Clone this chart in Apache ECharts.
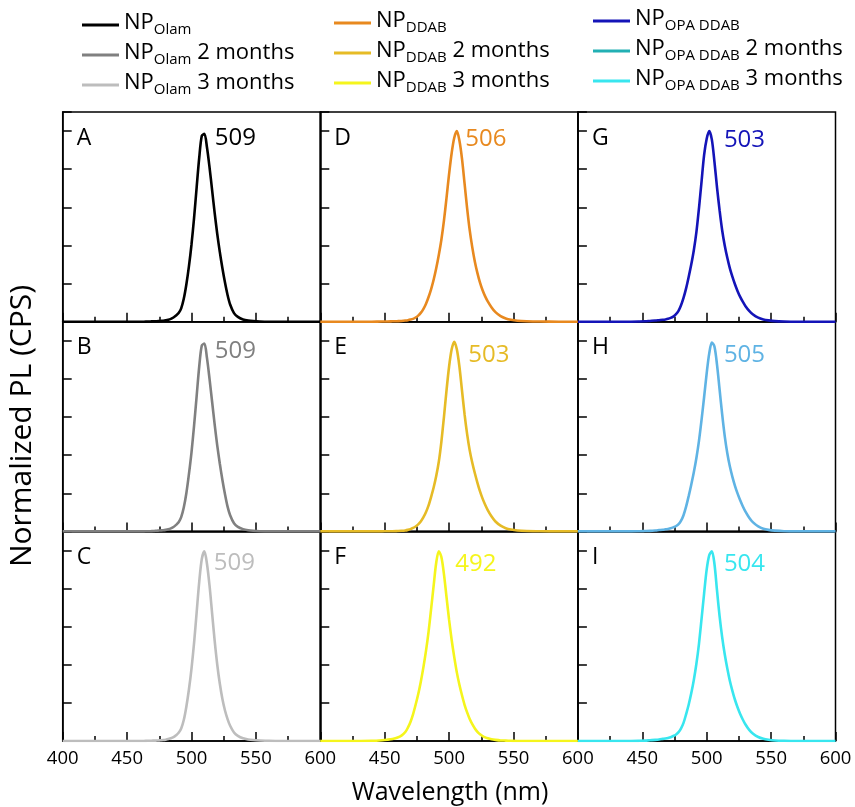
<!DOCTYPE html>
<html><head><meta charset="utf-8">
<script src="https://cdn.jsdelivr.net/npm/echarts@6/dist/echarts.min.js"></script>
<style>html,body{margin:0;padding:0;background:#fff}#c{width:855px;height:807px}</style>
</head><body><div id="c"></div>
<script>
// ---- data ----
const xTicks = [400, 450, 500, 550, 600];
const seriesNames = ['NP_Olam','NP_Olam 2 months','NP_Olam 3 months','NP_DDAB','NP_DDAB 2 months','NP_DDAB 3 months','NP_OPA DDAB','NP_OPA DDAB 2 months','NP_OPA DDAB 3 months'];
const legendSubs = ['Olam','Olam','Olam','DDAB','DDAB','DDAB','OPA DDAB','OPA DDAB','OPA DDAB'];
const legendSuffix = ['',' 2 months',' 3 months','',' 2 months',' 3 months','',' 2 months',' 3 months'];
const panelLetters = ['A','B','C','D','E','F','G','H','I'];
const peakLabels = ['509','509','509','506','503','492','503','505','504'];

const wavelengths = [400,420,440,448,452,456,460,463,
  466,468,470,472,474,476,478,480,482,484,486,488,490,492,494,496,498,500,502,504,506,508,510,512,514,516,518,520,522,524,526,528,530,
  533,536,540,544,548,553,560,570,585,600];
const olam   = [0,0,0,0,0,0,0,0, 0.001,0.001,0.002,0.002,0.003,0.004,0.005,0.007,0.01,0.015,0.022,0.032,0.045,0.07,0.12,0.195,0.29,0.405,0.545,0.705,0.86,0.975,0.985,0.915,0.81,0.69,0.57,0.46,0.365,0.28,0.205,0.14,0.09, 0.045,0.025,0.012,0.006,0.003,0.001,0,0,0,0];
const olam2m = [0,0,0,0,0,0,0,0, 0.001,0.001,0.002,0.003,0.004,0.005,0.006,0.008,0.011,0.016,0.023,0.034,0.048,0.075,0.125,0.2,0.3,0.415,0.555,0.71,0.865,0.975,0.985,0.91,0.80,0.68,0.56,0.45,0.355,0.27,0.195,0.13,0.085, 0.043,0.024,0.012,0.006,0.003,0.001,0,0,0,0];
const olam3m = [0,0,0,0,0,0,0,0, 0.001,0.001,0.002,0.002,0.003,0.004,0.005,0.007,0.01,0.014,0.02,0.03,0.043,0.066,0.11,0.18,0.27,0.38,0.515,0.675,0.835,0.955,0.995,0.93,0.815,0.67,0.525,0.4,0.3,0.22,0.16,0.115,0.08, 0.045,0.027,0.014,0.008,0.005,0.003,0.001,0,0,0];
const ddab   = [0,0,0,0.001,0.001,0.002,0.003,0.004, 0.006,0.008,0.011,0.015,0.022,0.032,0.046,0.066,0.093,0.128,0.17,0.22,0.28,0.35,0.43,0.53,0.65,0.775,0.885,0.965,1.0,0.95,0.855,0.725,0.595,0.48,0.39,0.315,0.255,0.205,0.165,0.133,0.107, 0.075,0.05,0.029,0.017,0.01,0.005,0.002,0.001,0,0];
const ddab2m = [0,0,0,0,0.001,0.001,0.002,0.003, 0.005,0.008,0.012,0.018,0.026,0.037,0.052,0.073,0.1,0.135,0.18,0.23,0.29,0.365,0.47,0.6,0.74,0.865,0.955,0.995,0.955,0.865,0.74,0.615,0.51,0.425,0.36,0.305,0.255,0.21,0.172,0.14,0.112, 0.078,0.052,0.03,0.017,0.01,0.005,0.002,0.001,0,0];
const ddab3m = [0,0,0.001,0.004,0.007,0.011,0.018,0.028, 0.047,0.07,0.1,0.14,0.19,0.245,0.31,0.385,0.47,0.57,0.69,0.815,0.935,0.995,0.965,0.875,0.755,0.635,0.53,0.44,0.36,0.295,0.24,0.19,0.15,0.115,0.088,0.066,0.048,0.035,0.026,0.019,0.014, 0.009,0.006,0.003,0.002,0.001,0,0,0,0,0];
const opa    = [0,0,0,0.001,0.002,0.004,0.006,0.008, 0.01,0.012,0.015,0.02,0.027,0.038,0.056,0.085,0.125,0.175,0.235,0.3,0.375,0.47,0.595,0.735,0.875,0.96,1.0,0.955,0.84,0.705,0.585,0.48,0.4,0.335,0.28,0.235,0.195,0.16,0.13,0.105,0.083, 0.057,0.038,0.021,0.012,0.007,0.003,0.001,0,0,0];
const opa2m  = [0,0,0,0.001,0.002,0.003,0.005,0.007, 0.009,0.011,0.013,0.016,0.021,0.027,0.037,0.055,0.085,0.13,0.185,0.245,0.31,0.385,0.475,0.585,0.705,0.83,0.935,0.99,0.97,0.875,0.745,0.615,0.5,0.41,0.34,0.285,0.238,0.198,0.163,0.132,0.105, 0.072,0.047,0.026,0.014,0.008,0.004,0.001,0,0,0];
const opa3m  = [0,0,0,0.001,0.002,0.004,0.006,0.008, 0.011,0.013,0.016,0.02,0.026,0.033,0.045,0.065,0.095,0.14,0.19,0.25,0.32,0.405,0.51,0.64,0.775,0.9,0.975,0.995,0.93,0.79,0.655,0.545,0.455,0.38,0.315,0.262,0.215,0.176,0.142,0.113,0.088, 0.058,0.038,0.021,0.012,0.007,0.003,0.001,0,0,0];
const panelValues = [olam, olam2m, olam3m, ddab, ddab2m, ddab3m, opa, opa2m, opa3m];

// ---- styles / layout ----
const lineColors = ['#000000','#808080','#bdbdbd','#e8891f','#e6bb26','#f5f51c','#1414b8','#5fb3e4','#38e6ef'];
const legendColors = ['#000000','#808080','#bdbdbd','#e8891f','#e6bb26','#f5f51c','#1414b8','#22b0b4','#38e6ef'];
const FONT = '"Open Sans", sans-serif';
const colLeft = [62.7, 320.3, 577.9];
const colW = 257.6;
const rowTop = [112, 321.7, 531.3];
const rowH = 209.7;

const grids = [], xAxes = [], yAxes = [], series = [], graphics = [];
for (let i = 0; i < 9; i++) {
  const col = Math.floor(i / 3), row = i % 3;
  grids.push({left: colLeft[col], top: rowTop[row], width: colW, height: rowH,
    show: true, borderColor: '#000', borderWidth: 1.5, containLabel: false});
  xAxes.push({gridIndex: i, type: 'value', min: xTicks[0], max: xTicks[xTicks.length-1], interval: 50,
    axisLine: {show: true, onZero: false, lineStyle: {color: '#000', width: 1.5}},
    axisTick: {show: true, inside: true, length: 9, lineStyle: {color: '#000', width: 1.5}},
    minorTick: {show: true, splitNumber: 2, length: 5, lineStyle: {color: '#000', width: 1.5}},
    splitLine: {show: false}, minorSplitLine: {show: false},
    axisLabel: {show: row === 2, showMinLabel: col === 0, showMaxLabel: true, fontSize: 18.5, fontFamily: FONT, color: '#000', margin: 8}
  });
  yAxes.push({gridIndex: i, type: 'value', min: 0, max: 1.1, interval: 0.2,
    axisLine: {show: true, lineStyle: {color: '#000', width: 1.5}},
    axisTick: {show: true, inside: true, length: 9, lineStyle: {color: '#000', width: 1.5}},
    axisLabel: {show: false}, splitLine: {show: false}
  });
  series.push({name: seriesNames[i], type: 'line', xAxisIndex: i, yAxisIndex: i,
    data: wavelengths.map((w, k) => [w, panelValues[i][k]]),
    symbol: 'none', smooth: 0.3,
    lineStyle: {color: lineColors[i], width: 2.6}, itemStyle: {color: lineColors[i]}, z: 3});
  graphics.push({type: 'text', x: colLeft[col] + 14, y: rowTop[row] + 26,
    style: {text: panelLetters[i], fill: '#000', font: '23px ' + FONT, verticalAlign: 'middle', align: 'left'}});
  const pk = [[152, 26], [152, 29], [151, 32], [145, 27], [148, 33], [135, 33], [146, 28], [146, 33], [146, 33]][i];
  graphics.push({type: 'text', x: colLeft[col] + pk[0], y: rowTop[row] + pk[1],
    style: {text: peakLabels[i], fill: lineColors[i], font: '24px ' + FONT, verticalAlign: 'middle', align: 'left'}});
}
graphics.push({type: 'text', x: 450, y: 793,
  style: {text: 'Wavelength (nm)', fill: '#000', font: '25px ' + FONT, align: 'center', verticalAlign: 'middle'}});
graphics.push({type: 'text', x: 22, y: 426, rotation: Math.PI / 2,
  style: {text: 'Normalized PL (CPS)', fill: '#000', font: '30px ' + FONT, align: 'center', verticalAlign: 'middle'}});

function legendFor(col, left, top) {
  return {
    orient: 'vertical', left: left, top: top, padding: 0, icon: 'rect', itemWidth: 37, itemHeight: 3,
    itemGap: 2, itemTextGap: 9, selectedMode: false,
    data: [0, 1, 2].map(k => ({name: seriesNames[col * 3 + k], itemStyle: {color: legendColors[col * 3 + k]}})),
    formatter: name => {
      const i = seriesNames.indexOf(name);
      return '{m|NP}{s|' + legendSubs[i] + '}' + (legendSuffix[i] ? '{m|' + legendSuffix[i] + '}' : '');
    },
    textStyle: {color: '#000', fontFamily: FONT, fontSize: 22,
      rich: {
        m: {fontSize: 22, fontFamily: FONT, color: '#000', lineHeight: 26, verticalAlign: 'top'},
        s: {fontSize: 15, fontFamily: FONT, color: '#000', lineHeight: 18, padding: [10, 0, 3, 0], verticalAlign: 'top'}
      }}
  };
}

const chart = echarts.init(document.getElementById('c'), null, {renderer: 'canvas'});
chart.setOption({
  animation: false,
  backgroundColor: '#fff',
  grid: grids, xAxis: xAxes, yAxis: yAxes, series: series,
  legend: [legendFor(0, 82, 12), legendFor(1, 334, 10), legendFor(2, 593, 8)],
  graphic: graphics
});
</script></body></html>
